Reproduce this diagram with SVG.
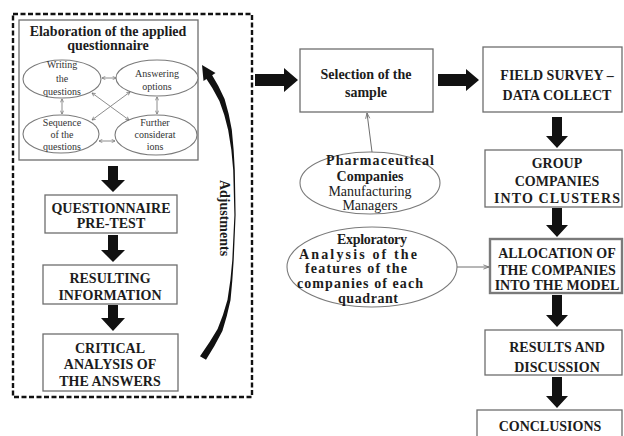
<svg xmlns="http://www.w3.org/2000/svg" width="624" height="436" viewBox="0 0 624 436">
  <defs>
    <style>
      .box { fill: #ffffff; stroke: #6e6e6e; stroke-width: 1.3; }
      .ell { fill: #ffffff; stroke: #7a7a7a; stroke-width: 1.1; }
      .t { font-family: "Liberation Serif", "Times New Roman", serif; font-weight: bold; font-size: 14px; fill: #1c1c1c; text-anchor: middle; }
      .r { font-weight: normal; }
      .s { font-weight: normal; font-size: 10px; fill: #333333; }
      .blk { fill: #111111; }
      .thin { fill: none; stroke: #6e6e6e; stroke-width: 1; }
      .link { fill: none; stroke: #808080; stroke-width: 0.9; }
    </style>
    <marker id="chev" viewBox="0 0 8 8" refX="7" refY="4" markerWidth="5" markerHeight="5" orient="auto-start-reverse">
      <path d="M1 1 L7 4 L1 7" fill="none" stroke="#707070" stroke-width="1.2"/>
    </marker>
    <marker id="tip" viewBox="0 0 10 10" refX="9" refY="5" markerWidth="7" markerHeight="7" orient="auto">
      <path d="M1 2 L9 5 L1 8" fill="none" stroke="#6e6e6e" stroke-width="1.2"/>
    </marker>
  </defs>

  <rect width="624" height="436" fill="#ffffff"/>

  <!-- dashed frame around the questionnaire stage -->
  <rect id="stage-frame" x="13" y="14" width="239" height="383" fill="none" stroke="#111" stroke-width="2.4" stroke-dasharray="5 2.5"/>

  <g id="elaboration">
    <rect class="box" x="19" y="20" width="179" height="140"/>
    <text class="t" x="108" y="36">Elaboration  of the applied</text>
    <text class="t" x="108" y="50">questionnaire</text>
    <g id="writing">
      <ellipse class="ell" cx="62" cy="79" rx="39" ry="19"/>
      <text class="t s" x="62" y="68">Writing</text>
      <text class="t s" x="62" y="82">the</text>
      <text class="t s" x="62" y="95">questions</text>
    </g>
    <g id="answering">
      <ellipse class="ell" cx="157" cy="78" rx="41" ry="18"/>
      <text class="t s" x="157" y="77">Answering</text>
      <text class="t s" x="157" y="90">options</text>
    </g>
    <g id="sequence">
      <ellipse class="ell" cx="61" cy="134" rx="38" ry="19"/>
      <text class="t s" x="62" y="126">Sequence</text>
      <text class="t s" x="62" y="138">of the</text>
      <text class="t s" x="62" y="150">questions</text>
    </g>
    <g id="further">
      <ellipse class="ell" cx="156" cy="135" rx="41" ry="20"/>
      <text class="t s" x="155" y="126">Further</text>
      <text class="t s" x="155" y="138">considerat</text>
      <text class="t s" x="155" y="150">ions</text>
    </g>
    <g id="elaboration-links">
      <line class="link" x1="102" y1="78" x2="116" y2="78" marker-start="url(#chev)" marker-end="url(#chev)"/>
      <line class="link" x1="99" y1="141" x2="115" y2="141" marker-start="url(#chev)" marker-end="url(#chev)"/>
      <line class="link" x1="62" y1="99" x2="62" y2="114" marker-start="url(#chev)" marker-end="url(#chev)"/>
      <line class="link" x1="157" y1="97" x2="157" y2="114" marker-start="url(#chev)" marker-end="url(#chev)"/>
      <line class="link" x1="92" y1="93" x2="129" y2="120" marker-start="url(#chev)" marker-end="url(#chev)"/>
      <line class="link" x1="130" y1="92" x2="92" y2="120" marker-start="url(#chev)" marker-end="url(#chev)"/>
    </g>
  </g>

  <g id="pretest">
    <rect class="box" x="45" y="195" width="132" height="38"/>
    <text class="t" x="111" y="213">QUESTIONNAIRE</text>
    <text class="t" x="111" y="228">PRE-TEST</text>
  </g>

  <g id="resulting">
    <rect class="box" x="43" y="265" width="134" height="39"/>
    <text class="t" x="110" y="283">RESULTING</text>
    <text class="t" x="110" y="300">INFORMATION</text>
  </g>

  <g id="critical">
    <rect class="box" x="43" y="334" width="135" height="57"/>
    <text class="t" x="110" y="353">CRITICAL</text>
    <text class="t" x="110" y="369">ANALYSIS OF</text>
    <text class="t" x="110" y="386">THE ANSWERS</text>
  </g>

  <g id="selection">
    <rect class="box" x="300" y="49" width="133" height="63"/>
    <text class="t" x="366" y="79">Selection of the</text>
    <text class="t" x="366" y="97">sample</text>
  </g>

  <g id="pharma">
    <ellipse class="ell" cx="370" cy="183" rx="70" ry="31"/>
    <text class="t" x="380" y="165" font-size="13" textLength="108">Pharmaceutical</text>
    <text class="t" x="370" y="181" font-size="13">Companies</text>
    <text class="t r" x="370" y="196" font-size="13">Manufacturing</text>
    <text class="t r" x="370" y="210" font-size="13">Managers</text>
  </g>

  <g id="exploratory">
    <ellipse class="ell" cx="372" cy="267" rx="85" ry="40"/>
    <text class="t" x="372" y="244" font-size="13" textLength="70">Exploratory</text>
    <text class="t" x="358" y="259" font-size="13" textLength="118">Analysis of the</text>
    <text class="t" x="356" y="273" font-size="13" textLength="102">features of the</text>
    <text class="t" x="360" y="288" font-size="13" textLength="126">companies of each</text>
    <text class="t" x="368" y="303" font-size="13" textLength="60">quadrant</text>
  </g>

  <g id="field">
    <rect class="box" x="483" y="47" width="139" height="65"/>
    <text class="t" x="557" y="80">FIELD SURVEY –</text>
    <text class="t" x="557" y="100">DATA COLLECT</text>
  </g>

  <g id="group">
    <rect class="box" x="485" y="150" width="137" height="57"/>
    <text class="t" x="557" y="168">GROUP</text>
    <text class="t" x="557" y="186">COMPANIES</text>
    <text class="t" x="557" y="203" textLength="126">INTO CLUSTERS</text>
  </g>

  <g id="allocation">
    <rect x="490" y="239" width="132" height="54" fill="#fff" stroke="#7a7a7a" stroke-width="2.4"/>
    <text class="t" x="557" y="258">ALLOCATION OF</text>
    <text class="t" x="557" y="275">THE COMPANIES</text>
    <text class="t" x="557" y="290">INTO THE MODEL</text>
  </g>

  <g id="results">
    <rect class="box" x="485" y="330" width="137" height="45"/>
    <text class="t" x="557" y="352" font-size="15">RESULTS AND</text>
    <text class="t" x="557" y="372" font-size="15">DISCUSSION</text>
  </g>

  <g id="conclusions">
    <rect class="box" x="477" y="410" width="145" height="40"/>
    <text class="t" x="550" y="431" font-size="15">CONCLUSIONS</text>
  </g>

  <g id="connectors">
    <!-- block arrows, left column -->
    <polygon class="blk" points="108,166 118,166 118,180 125,180 113,192 101,180 108,180"/>
    <polygon class="blk" points="108,235 118,235 118,250 125,250 113,262 101,250 108,250"/>
    <polygon class="blk" points="108,305 118,305 118,318 125,318 113,331 101,318 108,318"/>
    <!-- block arrows, top row -->
    <polygon class="blk" points="255,74 284,74 284,68 298,80 284,92 284,86 255,86"/>
    <polygon class="blk" points="438,74 466,74 466,69 479,80 466,91 466,86 438,86"/>
    <!-- block arrows, right column -->
    <polygon class="blk" points="552,117 562,117 562,136 568,136 557,148 546,136 552,136"/>
    <polygon class="blk" points="552,208 562,208 562,225 568,225 557,237 546,225 552,225"/>
    <polygon class="blk" points="552,295 562,295 562,315 568,315 557,327 546,315 552,315"/>
    <polygon class="blk" points="552,377 562,377 562,396 568,396 557,408 546,396 552,396"/>
    <!-- thin links into the main flow -->
    <line class="thin" x1="372" y1="152" x2="367" y2="113" marker-end="url(#tip)"/>
    <line class="thin" x1="457" y1="267" x2="489" y2="267" marker-end="url(#tip)"/>
    <!-- feedback stroke back to the questionnaire: heavy at both ends, hairline in the middle -->
    <path class="blk" d="M211 73.3 Q219 86 224.6 99 Q229 113 231.8 129.7 Q234 150 234.8 170 L235.6 215 L233.7 260 Q232.5 281 230.5 300.3 Q227 317 222.4 331.1 Q215 346 206 359.8 L200 356.2 Q210 342 217.6 328.9 Q223.5 315 227.5 299.7 Q230.8 281 232.3 260 L234.4 215 L233.2 170 Q232 150 228.2 130.3 Q225 115 219.4 101 Q213 88 205 76.7 Z"/>
    <polygon class="blk" points="202,65 215.5,73 203.5,81"/>
    <text class="t" x="0" y="0" transform="translate(220 218) rotate(90)" font-size="14">Adjustments</text>
  </g>
</svg>
